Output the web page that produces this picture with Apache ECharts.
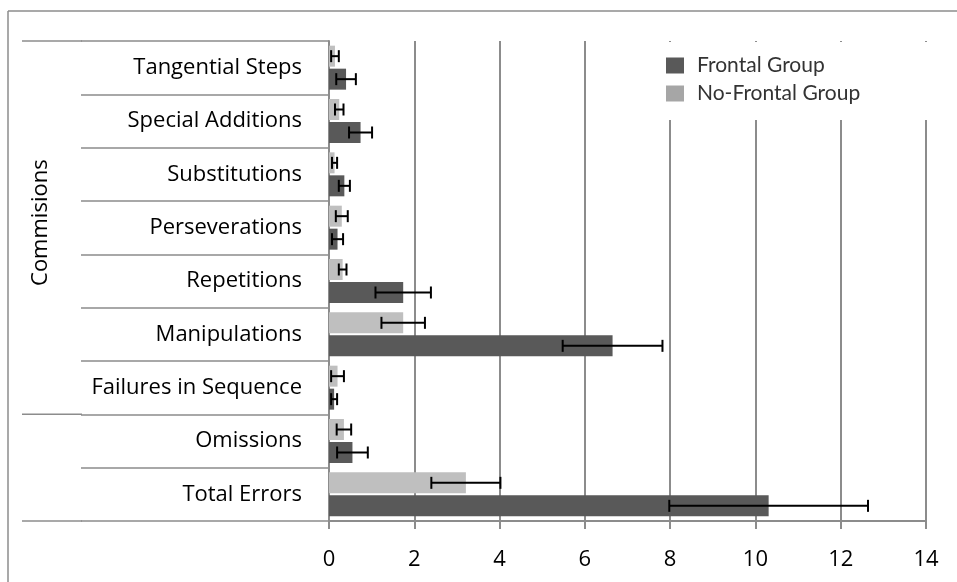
<!DOCTYPE html>
<html>
<head>
<meta charset="utf-8">
<script src="https://cdn.jsdelivr.net/npm/echarts@6/dist/echarts.min.js"></script>
<style>
  html, body { margin: 0; padding: 0; background: #fff; }
  #chart { width: 957px; height: 582px; }
</style>
</head>
<body>
<div id="chart"></div>
<script>
// Error categories, listed from the bottom of the axis to the top
const categories = [
  'Total Errors', 'Omissions', 'Failures in Sequence', 'Manipulations',
  'Repetitions', 'Perseverations', 'Substitutions', 'Special Additions', 'Tangential Steps'
];

// Mean number of errors and the spread drawn as error bars
const frontalMean   = [10.31, 0.55, 0.12, 6.65, 1.74, 0.20, 0.36, 0.74, 0.40];
const frontalErr    = [2.33, 0.36, 0.07, 1.17, 0.65, 0.13, 0.13, 0.27, 0.23];
const noFrontalMean = [3.21, 0.35, 0.20, 1.74, 0.32, 0.30, 0.13, 0.24, 0.14];
const noFrontalErr  = [0.81, 0.17, 0.15, 0.51, 0.09, 0.14, 0.06, 0.10, 0.09];

// Value axis range and step
const xMin = 0, xMax = 14, xStep = 2;

// Outer category group spanning several error types
const groupLabel = 'Commisions';
const groupFirstIndex = 2;   // Failures in Sequence
const groupLastIndex = 8;    // Tangential Steps

const FRONTAL_NAME = 'Frontal Group';
const NO_FRONTAL_NAME = 'No-Frontal Group';

const LINE_GREY = '#8c8c8c';
const BAR_W = 21;
const BAR_GAP = 2;
const HALF_STEP = (BAR_W + BAR_GAP) / 2;

const chart = echarts.init(document.getElementById('chart'), null, { renderer: 'canvas' });

// Horizontal error bar with end caps, centred on its own bar of the pair
function errorBars(name, means, errs, shift) {
  return {
    type: 'custom',
    name: name,
    silent: true,
    z: 5,
    data: means.map((m, i) => [m, i, errs[i]]),
    encode: { x: 0, y: 1 },
    renderItem: function (params, api) {
      const m = api.value(0), i = api.value(1), e = api.value(2);
      const lo = api.coord([m - e, i]);
      const hi = api.coord([m + e, i]);
      const y = lo[1] + shift;
      const cap = 6;
      const st = { stroke: '#000', lineWidth: 2 };
      return {
        type: 'group',
        children: [
          { type: 'line', shape: { x1: lo[0], y1: y, x2: hi[0], y2: y }, style: st },
          { type: 'line', shape: { x1: lo[0], y1: y - cap, x2: lo[0], y2: y + cap }, style: st },
          { type: 'line', shape: { x1: hi[0], y1: y - cap, x2: hi[0], y2: y + cap }, style: st }
        ]
      };
    }
  };
}

const option = {
  animation: false,
  backgroundColor: '#fff',
  grid: { left: 329, right: 31, top: 41, bottom: 61, outerBoundsMode: 'none' },
  legend: {
    orient: 'vertical',
    left: 650,
    top: 42,
    padding: [13, 85, 16, 16],
    backgroundColor: '#fff',
    selectedMode: false,
    icon: 'rect',
    itemWidth: 18,
    itemHeight: 16,
    itemGap: 7,
    textStyle: { fontFamily: 'Lato', fontSize: 21, color: '#333', lineHeight: 16, padding: [0, 0, 0, 8] },
    data: [
      { name: FRONTAL_NAME, itemStyle: { color: '#595959' } },
      { name: NO_FRONTAL_NAME, itemStyle: { color: '#a6a6a6' } }
    ]
  },
  xAxis: {
    type: 'value',
    min: xMin,
    max: xMax,
    interval: xStep,
    axisLine: { show: true, lineStyle: { color: LINE_GREY, width: 2 } },
    axisTick: { show: true, length: 8, lineStyle: { color: LINE_GREY, width: 2 } },
    axisLabel: { fontFamily: 'Open Sans', fontSize: 22, color: '#000', margin: 28 },
    splitLine: { show: true, lineStyle: { color: LINE_GREY, width: 2 } }
  },
  yAxis: {
    type: 'category',
    data: categories,
    axisLine: { show: true, lineStyle: { color: LINE_GREY, width: 2 } },
    axisTick: { show: true, length: 248, lineStyle: { color: LINE_GREY, width: 1.5 } },
    axisLabel: { fontFamily: 'Open Sans', fontSize: 22, color: '#000', margin: 27 }
  },
  series: [
    {
      name: NO_FRONTAL_NAME,
      type: 'bar',
      data: noFrontalMean,
      barWidth: BAR_W,
      barGap: (BAR_GAP / BAR_W * 100) + '%',
      itemStyle: { color: '#bfbfbf' }
    },
    {
      name: FRONTAL_NAME,
      type: 'bar',
      data: frontalMean,
      barWidth: BAR_W,
      barGap: (BAR_GAP / BAR_W * 100) + '%',
      itemStyle: { color: '#595959' }
    },
    errorBars('noFrontalSpread', noFrontalMean, noFrontalErr, -HALF_STEP),
    errorBars('frontalSpread', frontalMean, frontalErr, HALF_STEP)
  ]
};

chart.setOption(option);

// Group brackets and the outer group label, placed from the category scale
const py = i => chart.convertToPixel({ yAxisIndex: 0 }, i);
const band = py(0) - py(1);
const groupTop = py(groupLastIndex) - band / 2;
const groupBottom = py(groupFirstIndex) + band / 2;
const axisBottom = py(0) + band / 2;
const bracketStyle = { stroke: LINE_GREY, lineWidth: 1.5 };

chart.setOption({
  graphic: [
    { type: 'line', shape: { x1: 8, y1: 11, x2: 957, y2: 11 }, style: bracketStyle, silent: true },
    { type: 'line', shape: { x1: 8, y1: 11, x2: 8, y2: 582 }, style: bracketStyle, silent: true },
    { type: 'line', shape: { x1: 22, y1: groupTop, x2: 82, y2: groupTop }, style: bracketStyle, silent: true },
    { type: 'line', shape: { x1: 22, y1: groupBottom, x2: 82, y2: groupBottom }, style: bracketStyle, silent: true },
    { type: 'line', shape: { x1: 22, y1: axisBottom, x2: 82, y2: axisBottom }, style: bracketStyle, silent: true },
    {
      type: 'text',
      x: 41,
      y: (groupTop + groupBottom) / 2 - 5,
      rotation: Math.PI / 2,
      silent: true,
      style: {
        text: groupLabel,
        fontFamily: 'Open Sans',
        fontSize: 22,
        fill: '#000',
        align: 'center',
        verticalAlign: 'middle'
      }
    }
  ]
});
</script>
</body>
</html>
